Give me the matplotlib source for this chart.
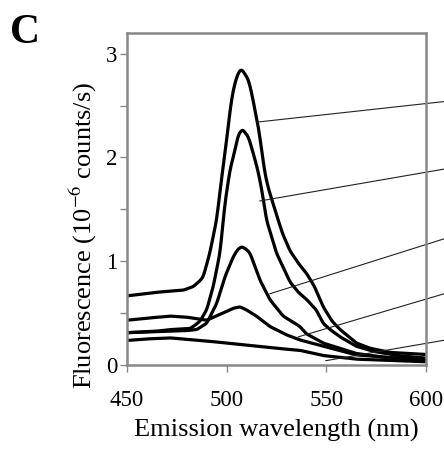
import matplotlib
matplotlib.use("Agg")
import matplotlib.pyplot as plt
import numpy as np

plt.rcParams['font.family'] = ['Liberation Serif', 'DejaVu Serif']
plt.rcParams['mathtext.fontset'] = 'stix'

# spectra (wavelength nm, fluorescence)
wl_a = [450, 465, 471.6, 478.3, 483.3, 486.6, 488.3, 491.6, 495, 497.5, 499.2, 500.8, 502.5, 504.2, 506, 507.5, 509, 510.9, 512.6, 514.2, 515.9, 517.6, 519.2, 521, 525, 528, 531.8, 536, 540.2, 544, 548.5, 553, 557, 565.2, 572, 582, 600]
fl_a = [0.665, 0.70, 0.71, 0.72, 0.755, 0.81, 0.85, 1.08, 1.40, 1.80, 2.04, 2.30, 2.56, 2.72, 2.82, 2.85, 2.81, 2.75, 2.62, 2.46, 2.30, 2.07, 1.85, 1.70, 1.45, 1.27, 1.10, 0.98, 0.88, 0.76, 0.56, 0.42, 0.34, 0.21, 0.16, 0.12, 0.10]

wl_b = [450, 465, 471.6, 481.6, 484, 486.6, 490, 493.3, 496.7, 499.2, 501.7, 504.2, 505.9, 508, 510.9, 513.4, 516, 518, 520, 525, 531.8, 536, 540.2, 545, 548.5, 552, 557, 565, 573.7, 587, 600]
fl_b = [0.31, 0.325, 0.34, 0.35, 0.38, 0.42, 0.53, 0.755, 1.08, 1.56, 1.88, 2.07, 2.22, 2.27, 2.20, 2.04, 1.85, 1.65, 1.40, 1.08, 0.80, 0.70, 0.63, 0.53, 0.40, 0.34, 0.27, 0.18, 0.13, 0.087, 0.065]

wl_c = [450, 465, 480, 485, 490, 495, 499.2, 503.3, 505.5, 507.5, 509.5, 511.7, 516.7, 521.7, 528.4, 531.8, 536.8, 540, 548.5, 565, 580, 600]
fl_c = [0.31, 0.32, 0.33, 0.34, 0.40, 0.59, 0.85, 1.04, 1.11, 1.14, 1.12, 1.08, 0.82, 0.63, 0.47, 0.43, 0.37, 0.30, 0.21, 0.11, 0.07, 0.05]

wl_d = [450, 460, 471.6, 480, 490, 498.3, 503.3, 506.7, 510, 515, 521.7, 530, 536.8, 548.5, 565, 600]
fl_d = [0.43, 0.45, 0.47, 0.46, 0.43, 0.50, 0.545, 0.56, 0.53, 0.47, 0.37, 0.29, 0.24, 0.18, 0.096, 0.045]

wl_e = [450, 460, 471.6, 490, 510, 525, 536.8, 548.5, 565, 600]
fl_e = [0.235, 0.25, 0.26, 0.23, 0.19, 0.16, 0.14, 0.09, 0.055, 0.03]

# leader lines: start on curve, end at right edge of figure
lead_x0 = [515.2, 516.7, 521.7, 536.0, 549.8]
lead_y0 = [2.34, 1.58, 0.685, 0.27, 0.04]
lead_y1 = [2.54, 1.89, 1.22, 0.69, 0.24]
lead_x1 = 610

fig = plt.figure(figsize=(4.44, 4.51), dpi=100)
ax = fig.add_axes([0.286, 0.191, 0.673, 0.736])

x = np.linspace(450, 600, 601)
kernel = np.ones(7) / 7
for wl, fl in [(wl_a, fl_a), (wl_b, fl_b), (wl_c, fl_c), (wl_d, fl_d), (wl_e, fl_e)]:
    y = np.interp(x, wl, fl)
    ys = np.convolve(np.pad(y, 3, mode='edge'), kernel, mode='valid')
    ax.plot(x, ys, color='black', lw=2.3, solid_joinstyle='round', solid_capstyle='butt')

for x0, y0, y1 in zip(lead_x0, lead_y0, lead_y1):
    ax.plot([x0, lead_x1], [y0, y1], color='#222222', lw=0.8, clip_on=False)

ax.set_xlim(450, 600)
ax.set_ylim(0, 3.2)
ax.set_xticks([450, 500, 550, 600])
ax.set_yticks([0, 1, 2, 3])
ax.set_yticks([0.5, 1.5, 2.5], minor=True)
ax.tick_params(axis='both', which='both', direction='out', color='#888888', labelsize=16.5, width=1, length=5)
ax.tick_params(axis='x', which='major', pad=13)
ax.tick_params(axis='y', which='major', pad=2)
for s in ax.spines.values():
    s.set_color('#888888')
    s.set_linewidth(1.8)

ax.set_xlabel('Emission wavelength (nm)', fontsize=19)
ax.xaxis.set_label_coords(0.5, -0.163)
ax.set_ylabel(r'Fluorescence (10$^{-6}$ counts/s)', fontsize=19)
ax.yaxis.set_label_coords(-0.095, 0.39)

fig.text(0.022, 0.905, 'C', fontsize=30, fontweight='bold')

fig.savefig('out.png', dpi=100)
